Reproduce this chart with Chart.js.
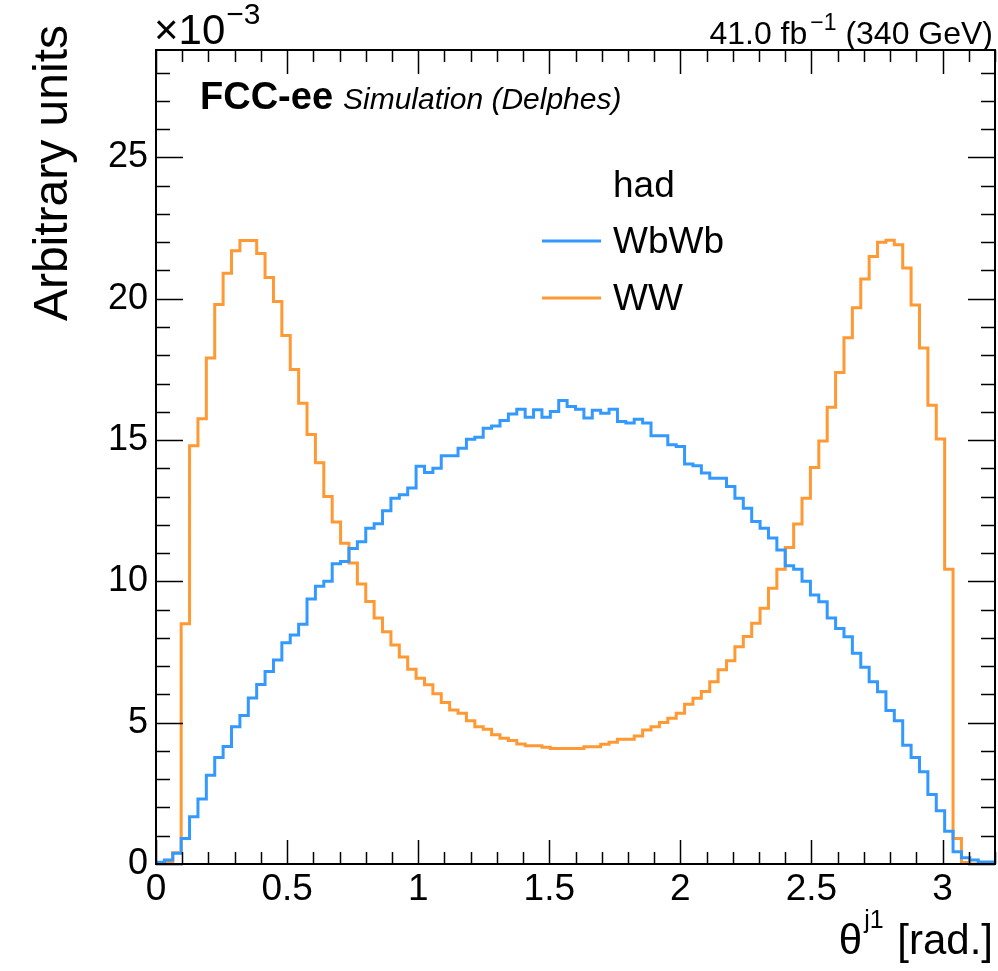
<!DOCTYPE html>
<html>
<head>
<meta charset="utf-8">
<script src="https://cdn.jsdelivr.net/npm/chart.js@4.4.1/dist/chart.umd.min.js"></script>
<style>
html,body{margin:0;padding:0;background:#fff;}
#wrap{width:998px;height:971px;position:relative;}
canvas{display:block;}
</style>
</head>
<body>
<div id="wrap"><canvas id="c" width="998" height="971"></canvas></div>
<script>
// ---- data (bin low edges of theta^j1 in rad, plus the upper edge) ----
const binEdges = [0,0.032,0.064,0.096,0.128,0.16,0.192,0.224,0.256,0.288,
0.32,0.352,0.384,0.416,0.448,0.48,0.512,0.544,0.576,0.608,
0.64,0.672,0.704,0.736,0.768,0.8,0.832,0.864,0.896,0.928,
0.96,0.992,1.024,1.056,1.088,1.12,1.152,1.184,1.216,1.248,
1.28,1.312,1.344,1.376,1.408,1.44,1.472,1.504,1.536,1.568,
1.6,1.632,1.664,1.696,1.728,1.76,1.792,1.824,1.856,1.888,
1.92,1.952,1.984,2.016,2.048,2.08,2.112,2.144,2.176,2.208,
2.24,2.272,2.304,2.336,2.368,2.4,2.432,2.464,2.496,2.528,
2.56,2.592,2.624,2.656,2.688,2.72,2.752,2.784,2.816,2.848,
2.88,2.912,2.944,2.976,3.008,3.04,3.072,3.104,3.136,3.168,3.2];

// values in units of 1e-3 (arbitrary units)
const wbwbValues = [0.06,0.14,0.38,0.9,1.67,2.3,3.14,3.77,4.16,4.86,
5.25,5.87,6.35,6.81,7.22,7.83,8.1,8.48,9.38,9.83,
10.0,10.62,10.7,11.16,11.4,11.88,12.04,12.5,12.94,13.06,
13.3,14.07,13.85,14.0,14.44,14.44,14.71,15.03,15.1,15.42,
15.5,15.69,15.92,16.09,15.81,16.07,15.81,16.01,16.4,16.19,
16.09,15.78,16.05,15.95,16.09,15.66,15.6,15.74,15.6,15.15,
15.15,14.83,14.77,14.15,14.09,13.83,13.65,13.65,13.36,12.94,
12.59,12.12,11.88,11.53,11.11,10.55,10.43,10.0,9.52,9.28,
8.7,8.33,8.04,7.46,6.96,6.45,6.09,5.43,5.07,4.2,
3.77,3.26,2.46,1.88,1.16,0.43,0.22,0.14,0.07,0.07];

const wwValues = [0.02,0.05,0.4,8.5,14.8,15.75,17.9,19.8,20.9,21.7,
22.06,22.06,21.6,20.75,19.9,18.7,17.5,16.3,15.2,14.2,
13.0,12.1,11.35,10.65,9.91,9.29,8.7,8.22,7.75,7.32,
6.89,6.57,6.34,6.02,5.71,5.45,5.33,5.07,4.86,4.77,
4.57,4.45,4.37,4.25,4.18,4.18,4.13,4.09,4.09,4.09,
4.09,4.15,4.15,4.24,4.31,4.41,4.41,4.53,4.74,4.86,
5.01,5.16,5.33,5.65,5.86,6.1,6.45,6.87,7.19,7.69,
8.05,8.52,9.05,9.76,10.43,11.2,12.03,12.94,14.03,14.97,
16.16,17.39,18.62,19.68,20.7,21.49,22.0,22.07,21.91,21.09,
19.78,18.26,16.23,15.04,10.43,0.9,0.05,0,0,0];

const seriesLabels = ['WbWb', 'WW'];
const legendHeader = 'had';
const xRange = [0, 3.2];
const yRange = [0, 28.8];
const xMajorStep = 0.5, xMinorStep = 0.1;
const yMajorStep = 5, yMinorStep = 1;

// ---- styles ----
const COLORS = ['#3399ff', '#ff9933'];
const FONT = '"Liberation Sans", Arial, Helvetica, sans-serif';

function histPoints(values) {
  const pts = values.map((v, i) => ({x: binEdges[i], y: v}));
  pts.push({x: binEdges[binEdges.length - 1], y: values[values.length - 1]});
  return pts;
}

const rootFrame = {
  id: 'rootFrame',
  afterDatasetsDraw(chart) {
    const {ctx, chartArea: a, scales: {x, y}} = chart;
    ctx.save();
    ctx.strokeStyle = '#000';
    ctx.lineWidth = 1.5;
    ctx.beginPath();
    const nx = Math.round((xRange[1] - xRange[0]) / xMinorStep);
    const perMajX = Math.round(xMajorStep / xMinorStep);
    for (let i = 0; i <= nx; i++) {
      const px = Math.round(x.getPixelForValue(xRange[0] + i * xMinorStep)) + 0.5;
      const len = (i % perMajX === 0) ? 24 : 12;
      ctx.moveTo(px, a.bottom); ctx.lineTo(px, a.bottom - len);
      ctx.moveTo(px, a.top); ctx.lineTo(px, a.top + len);
    }
    const ny = Math.floor((yRange[1] - yRange[0]) / yMinorStep);
    const perMajY = Math.round(yMajorStep / yMinorStep);
    for (let i = 0; i <= ny; i++) {
      const py = Math.round(y.getPixelForValue(yRange[0] + i * yMinorStep)) + 0.5;
      const len = (i % perMajY === 0) ? 27 : 14;
      ctx.moveTo(a.left, py); ctx.lineTo(a.left + len, py);
      ctx.moveTo(a.right, py); ctx.lineTo(a.right - len, py);
    }
    ctx.stroke();
    ctx.lineWidth = 2;
    ctx.strokeRect(a.left, a.top, a.right - a.left, a.bottom - a.top);
    ctx.restore();
  },
  afterDraw(chart) {
    const {ctx, chartArea: a} = chart;
    ctx.save();
    ctx.fillStyle = '#000';
    ctx.textBaseline = 'alphabetic';
    ctx.textAlign = 'left';

    // x10^-3 multiplier
    ctx.font = '42px ' + FONT;
    ctx.fillText('\u00d710', a.left - 2, 44);
    let w = ctx.measureText('\u00d710').width;
    ctx.font = '30px ' + FONT;
    ctx.fillText('\u22123', a.left - 2 + w + 1, 24);

    // luminosity label (right aligned)
    const p1 = '41.0 fb', p2 = '\u22121', p3 = ' (340 GeV)';
    ctx.font = '32px ' + FONT; const w1 = ctx.measureText(p1).width, w3 = ctx.measureText(p3).width;
    ctx.font = '23px ' + FONT; const w2 = ctx.measureText(p2).width;
    let x0 = 993 - (w1 + w2 + w3 + 3);
    ctx.font = '32px ' + FONT; ctx.fillText(p1, x0, 44);
    ctx.font = '23px ' + FONT; ctx.fillText(p2, x0 + w1 + 3, 30);
    ctx.font = '32px ' + FONT; ctx.fillText(p3, x0 + w1 + w2 + 3, 44);

    // experiment label
    ctx.font = 'bold 38px ' + FONT;
    ctx.fillText('FCC-ee', 200, 109);
    w = ctx.measureText('FCC-ee').width;
    ctx.font = 'italic 30px ' + FONT;
    ctx.fillText('Simulation (Delphes)', 200 + w + 10, 109);

    // legend
    ctx.font = '37px ' + FONT;
    ctx.fillText(legendHeader, 613, 197);
    const ly = [253, 310];
    seriesLabels.forEach((lab, i) => {
      ctx.fillText(lab, 613, ly[i]);
      ctx.strokeStyle = COLORS[i];
      ctx.lineWidth = 3;
      ctx.beginPath();
      ctx.moveTo(542, ly[i] - 12); ctx.lineTo(601, ly[i] - 12);
      ctx.stroke();
    });

    // y axis title
    ctx.save();
    ctx.translate(67, 25);
    ctx.rotate(-Math.PI / 2);
    ctx.textAlign = 'right';
    ctx.font = '48px ' + FONT;
    ctx.fillText('Arbitrary units', 0, 0);
    ctx.restore();

    // x axis title: theta^{j1} [rad.]
    const t1 = '\u03b8', t2 = 'j1', t3 = ' [rad.]';
    ctx.font = '42px ' + FONT; const a1 = ctx.measureText(t1).width, a3 = ctx.measureText(t3).width;
    ctx.font = '25px ' + FONT; const a2 = ctx.measureText(t2).width;
    x0 = 993 - (a1 + a2 + a3 + 4);
    ctx.font = '42px ' + FONT; ctx.fillText(t1, x0, 954);
    ctx.font = '25px ' + FONT; ctx.fillText(t2, x0 + a1 + 2, 928);
    ctx.font = '42px ' + FONT; ctx.fillText(t3, x0 + a1 + a2 + 4, 954);
    ctx.restore();
  }
};

const chart = new Chart(document.getElementById('c'), {
  type: 'line',
  data: {
    datasets: [
      {label: seriesLabels[0], data: histPoints(wbwbValues), borderColor: COLORS[0], borderWidth: 3, stepped: 'before', pointRadius: 0, fill: false},
      {label: seriesLabels[1], data: histPoints(wwValues), borderColor: COLORS[1], borderWidth: 3, stepped: 'before', pointRadius: 0, fill: false}
    ]
  },
  options: {
    responsive: false,
    animation: false,
    devicePixelRatio: 1,
    layout: {padding: {left: 0, right: 3, top: 50, bottom: 0}},
    plugins: {legend: {display: false}, tooltip: {enabled: false}, title: {display: false}},
    scales: {
      x: {
        type: 'linear', min: xRange[0], max: xRange[1],
        grid: {display: false, drawTicks: false},
        border: {display: false},
        ticks: {stepSize: xMajorStep, includeBounds: false, padding: 4, color: '#000', maxRotation: 0, autoSkip: false,
                font: {family: FONT, size: 37},
                callback: (v) => String(Number(Number(v).toFixed(1)))},
        afterFit: (s) => { s.height = 107; }
      },
      y: {
        type: 'linear', min: yRange[0], max: yRange[1],
        grid: {display: false, drawTicks: false},
        border: {display: false},
        ticks: {stepSize: yMajorStep, includeBounds: false, padding: 8, color: '#000',
                font: {family: FONT, size: 36}},
        afterFit: (s) => { s.width = 156; }
      }
    }
  },
  plugins: [rootFrame]
});
</script>
</body>
</html>
